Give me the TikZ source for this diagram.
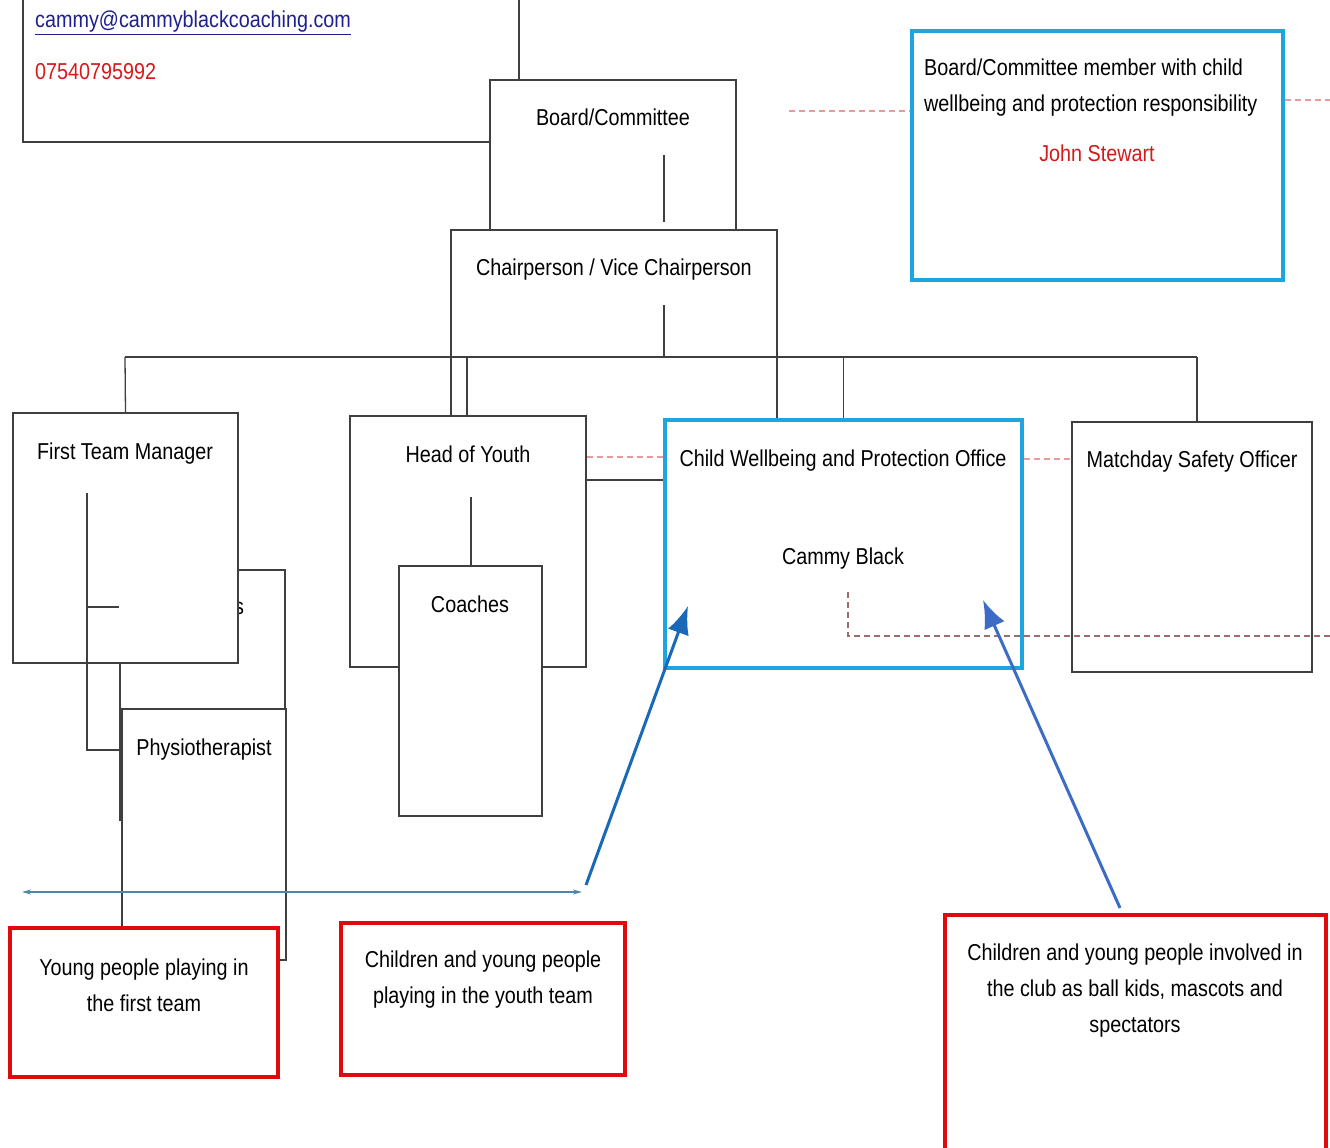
\documentclass[tikz,border=0pt]{standalone}
\usepackage{fontspec}
\setmainfont{Liberation Sans}[FakeStretch=0.86]
\usetikzlibrary{arrows.meta,positioning}
\definecolor{boxline}{HTML}{3F3F3F}
\definecolor{cwpblue}{HTML}{1EA5DD}
\definecolor{kidred}{HTML}{E10A0A}
\definecolor{dashred}{HTML}{E99A9A}
\definecolor{dashgrey}{HTML}{9A6E6E}
\definecolor{maildark}{HTML}{1F1F8F}
\definecolor{phonered}{HTML}{D41A1A}
\definecolor{arrowblue}{HTML}{1A68B8}
\definecolor{arrowbluetwo}{HTML}{3C6CC6}
\definecolor{lineblue}{HTML}{4F86AE}
\tikzset{
	orgbox/.style 2 args={draw=boxline, line width=1.3pt, fill=white, inner sep=0pt,
			minimum width=#1, minimum height=#2},
	safebox/.style 2 args={orgbox={#1}{#2}, draw=cwpblue, line width=4.5pt},
	kidbox/.style 2 args={orgbox={#1}{#2}, draw=kidred, line width=4.5pt},
	title/.style={anchor=base, inner sep=0pt},
	link/.style={draw=boxline, line width=1.3pt},
	dashlink/.style={draw=dashred, line width=1.3pt, dash pattern=on 6pt off 4pt}
}

\begin{document}
\begin{tikzpicture}[x=1pt, y=-1pt, every node/.style={font=\fontsize{23}{36}\selectfont}]
		\useasboundingbox (0,0) rectangle (1330,1148);

		% Contact box
		\node[orgbox={496pt}{180pt}] (contact) at (271,52) {};
		\node[title, anchor=base west, text=maildark] (mail) at (35,28) {\underline{cammy@cammyblackcoaching.com}};
		\node[title, anchor=base west, text=phonered] (phone) at (35,80) {07540795992};

		% Board and chair
		\node[orgbox={246pt}{220pt}] (board) at (613,190) {};
		\node[title] (boardt) at (613,125) {Board/Committee};
		\node[orgbox={326pt}{250pt}] (chair) at (614,355) {};
		\node[title] (chairt) at (614,275) {Chairperson / Vice Chairperson};
		\coordinate (boardlow) at (664,155);
		\coordinate (boardend) at (664,222);
		\coordinate (chairlow) at (664,305);
		\draw[link] (boardlow) -- (boardend);

		% The bus under the chair
		\coordinate (busL) at (125,357);
		\coordinate (busR) at (1197,357);
		\draw[link] (chairlow) -- (chairlow |- busL);
		\draw[link] (busL) -- (busR);

		% First team side
		\node[orgbox={165pt}{250pt}] (staff) at (202.5,695) {};
		\node[title, anchor=base west] (stafft) at (234,614) {s};
		\node[orgbox={164pt}{251pt}] (physio) at (204,834.5) {};
		\node[title] (physiot) at (204,755) {Physiotherapist};
		\node[orgbox={225pt}{250pt}] (ftm) at (125.5,538) {};
		\node[title] (ftmt) at (125,459) {First Team Manager};
		\coordinate (ftmlow) at (87,493);
		\coordinate (ftmmid) at (87,607);
		\coordinate (ftmend) at (87,750);
		\draw[link] (ftmlow) -- (ftmend) -- (ftmend -| physio.west);
		\draw[link] (ftmmid) -- (ftmmid -| staff.west);
		\draw[link] (busL) -- (ftm.north);

		% Youth side
		\node[orgbox={236pt}{251pt}] (hoy) at (468,541.5) {};
		\node[title] (hoyt) at (468,462) {Head of Youth};
		\node[orgbox={143pt}{250pt}] (coaches) at (470.5,691) {};
		\node[title] (coachest) at (470,612) {Coaches};
		\coordinate (hoylow) at (471,497);
		\coordinate (hoydrop) at (467,357);
		\draw[link] (hoylow) -- (hoylow |- coaches.north);
		\draw[link] (hoydrop) -- (hoydrop |- hoy.north);

		% Child wellbeing office
		\node[safebox={357pt}{248pt}] (cwpo) at (843.5,544) {};
		\node[title] (cwpot) at (843,466) {Child Wellbeing and Protection Office};
		\node[title] (cammy) at (843,564) {Cammy Black};
		\draw[link] (cwpo.north |- busL) -- (cwpo.north);
		\draw[link] (hoy.east |- 0,480) -- (cwpo.west |- 0,480);
		\draw[dashlink] (hoy.east |- 0,457) -- (cwpo.west |- 0,457);

		% Matchday
		\node[orgbox={240pt}{250pt}] (match) at (1192,547) {};
		\node[title] (matcht) at (1192,467) {Matchday Safety Officer};
		\draw[link] (busR) -- (busR |- match.north);
		\draw[dashlink] (cwpo.east |- 0,459) -- (match.west |- 0,459);

		% Dashed line from Cammy Black
		\coordinate (cammylow) at (848,592);
		\coordinate (rightedge) at (1330,636);
		\draw[dashlink, draw=dashgrey] (cammylow) -- (cammylow |- rightedge) -- (rightedge);

		% Board member box
		\node[safebox={371pt}{249pt}, line width=3.5pt] (member) at (1097.5,155.5) {};
		\node[anchor=west, align=left, inner sep=0pt] (membert) at (924,88) {Board/Committee member with child\\wellbeing and protection responsibility};
		\node[title, text=phonered] (john) at (1097,161) {John Stewart};
		\coordinate (dashL) at (789,111);
		\coordinate (dashR) at (1330,100);
		\draw[dashlink] (dashL) -- (member.west |- dashL);
		\draw[dashlink] (member.east |- dashR) -- (dashR);

		% Children boxes
		\node[kidbox={268pt}{149pt}] (first) at (144,1002.5) {};
		\node[align=center, inner sep=0pt] (firstt) at (144,985) {Young people playing in\\the first team};
		\node[kidbox={284pt}{152pt}] (youth) at (483,999) {};
		\node[align=center, inner sep=0pt] (youtht) at (483,980) {Children and young people\\playing in the youth team};
		\node[kidbox={381pt}{260pt}] (club) at (1135.5,1045) {};
		\node[align=center, inner sep=0pt] (clubt) at (1135,990.5) {Children and young people involved in\\the club as ball kids, mascots and\\spectators};

		% Blue arrows
		\coordinate (lineL) at (22,892);
		\coordinate (lineR) at (582,892);
		\draw[lineblue, line width=2pt, {Stealth[length=9pt,width=5pt]}-{Stealth[length=9pt,width=5pt]}] (lineL) -- (lineR);
		\coordinate (arrowA) at (586,885);
		\coordinate (tipA) at (688,606);
		\draw[arrowblue, line width=3pt, -{Latex[length=28pt,width=22pt]}] (arrowA) -- (tipA);
		\coordinate (arrowB) at (1120,908);
		\coordinate (tipB) at (983,600);
		\draw[arrowbluetwo, line width=3pt, -{Latex[length=28pt,width=22pt]}] (arrowB) -- (tipB);
	\end{tikzpicture}
\end{document}
